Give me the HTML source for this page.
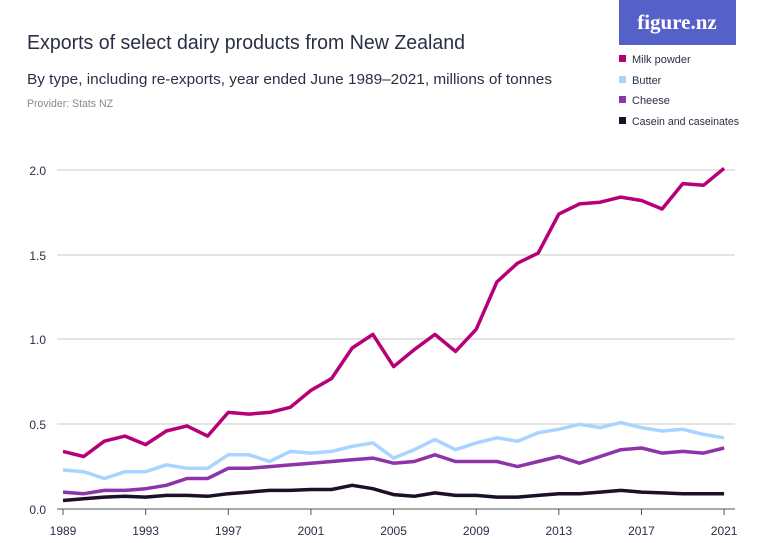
<!DOCTYPE html>
<html><head><meta charset="utf-8"><style>
body{margin:0;background:#fff;width:760px;height:543px;overflow:hidden;font-family:"Liberation Sans",sans-serif;}
</style></head><body>
<svg width="760" height="543" xmlns="http://www.w3.org/2000/svg" style="position:absolute;left:0;top:0">
<text x="27" y="49" font-size="20" fill="#2a2f45" textLength="438" lengthAdjust="spacingAndGlyphs">Exports of select dairy products from New Zealand</text>
<text x="27" y="84" font-size="15" fill="#2a2f45" textLength="525" lengthAdjust="spacingAndGlyphs">By type, including re-exports, year ended June 1989–2021, millions of tonnes</text>
<text x="27" y="107" font-size="11" fill="#888" textLength="86" lengthAdjust="spacingAndGlyphs">Provider: Stats NZ</text>
<rect x="619" y="0" width="117" height="45" fill="#5560c8"/>
<text x="677" y="29" font-size="21" fill="#fff" text-anchor="middle" font-family="Liberation Serif,serif" font-weight="bold">figure.nz</text>
<rect x="619" y="55" width="7" height="7" fill="#b5007a"/><text x="632" y="63" font-size="11" fill="#2a2f45">Milk powder</text>
<rect x="619" y="76" width="7" height="7" fill="#a8d4ff"/><text x="632" y="84" font-size="11" fill="#2a2f45">Butter</text>
<rect x="619" y="96" width="7" height="7" fill="#8e33a8"/><text x="632" y="104" font-size="11" fill="#2a2f45">Cheese</text>
<rect x="619" y="117" width="7" height="7" fill="#1d0f26"/><text x="632" y="125" font-size="11" fill="#2a2f45" textLength="107" lengthAdjust="spacingAndGlyphs">Casein and caseinates</text>
<g stroke="#dcdcdc" stroke-width="1.5">
<line x1="57" x2="735" y1="170" y2="170"/><line x1="57" x2="735" y1="255" y2="255"/><line x1="57" x2="735" y1="339" y2="339"/><line x1="57" x2="735" y1="424" y2="424"/>
</g>
<g font-size="12" fill="#2a2f45" text-anchor="end">
<text x="46" y="175">2.0</text><text x="46" y="260">1.5</text><text x="46" y="344">1.0</text><text x="46" y="429">0.5</text><text x="46" y="514">0.0</text>
</g>
<line x1="57" x2="735" y1="509" y2="509" stroke="#555" stroke-width="1"/>
<g id="ticks" stroke="#555"></g>
<g id="xl" font-size="12" fill="#2a2f45" text-anchor="middle"></g>
<g id="lines" fill="none" stroke-width="3.5" stroke-linejoin="round"></g>
</svg>
<script>
var X=function(i){return 63+i*20.66}, Y=function(v){return 509-v*169.5};
var s=[
["#b5007a",[.34,.31,.40,.43,.38,.46,.49,.43,.57,.56,.57,.60,.70,.77,.95,1.03,.84,.94,1.03,.93,1.06,1.34,1.45,1.51,1.74,1.80,1.81,1.84,1.82,1.77,1.92,1.91,2.01]],
["#a8d4ff",[.23,.22,.18,.22,.22,.26,.24,.24,.32,.32,.28,.34,.33,.34,.37,.39,.30,.35,.41,.35,.39,.42,.40,.45,.47,.50,.48,.51,.48,.46,.47,.44,.42]],
["#8e33a8",[.10,.09,.11,.11,.12,.14,.18,.18,.24,.24,.25,.26,.27,.28,.29,.30,.27,.28,.32,.28,.28,.28,.25,.28,.31,.27,.31,.35,.36,.33,.34,.33,.36]],
["#1d0f26",[.05,.06,.07,.075,.07,.08,.08,.075,.09,.10,.11,.11,.115,.115,.14,.12,.085,.075,.095,.08,.08,.07,.07,.08,.09,.09,.10,.11,.10,.095,.09,.09,.09]]];
var h='';s.forEach(function(a){h+='<polyline stroke="'+a[0]+'" points="'+a[1].map(function(v,i){return X(i).toFixed(1)+','+Y(v).toFixed(1)}).join(' ')+'"/>'});
document.getElementById('lines').innerHTML=h;
var t='',l='';for(var i=0;i<=32;i+=4){t+='<line x1="'+X(i)+'" x2="'+X(i)+'" y1="509" y2="515"/>';l+='<text x="'+X(i)+'" y="535">'+(1989+i)+'</text>';}
document.getElementById('ticks').innerHTML=t;document.getElementById('xl').innerHTML=l;
</script>
</body></html>
